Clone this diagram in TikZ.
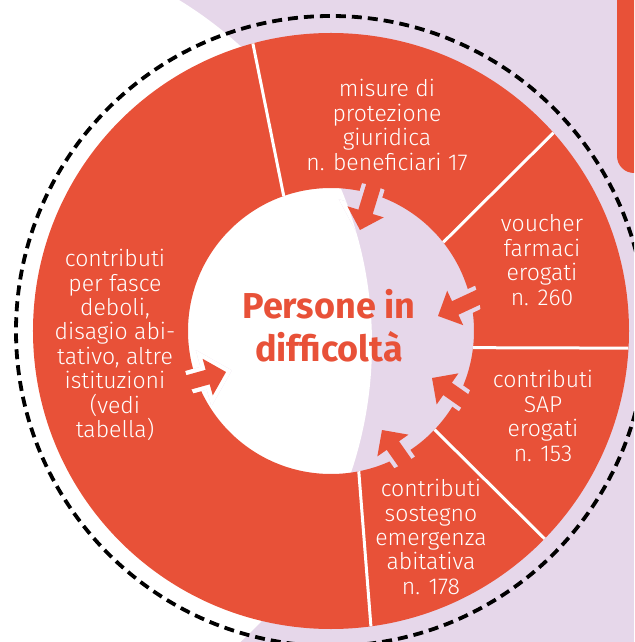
\documentclass[tikz,border=0pt]{standalone}
\usepackage{fontspec}
\setmainfont{Fira Sans Light}[BoldFont={Fira Sans Bold}]
\definecolor{orng}{RGB}{232,81,56}
\definecolor{lav}{RGB}{230,215,234}
\begin{document}
\begin{tikzpicture}[x=1pt,y=1pt,
  lbl/.style={text=white, align=center, inner sep=0pt, font=\fontsize{23}{24.4}\selectfont},
  ttl/.style={text=orng, align=center, inner sep=0pt, font=\bfseries\fontsize{36}{43}\selectfont},
  divider/.style={white, line width=3pt},
  arr/.pic={\path[pic actions] (0,0) -- (-19,19) -- (-19,7.5) -- (-52,7.5) -- (-52,-7.5) -- (-19,-7.5) -- (-19,-19) -- cycle;},
]
\useasboundingbox (-331,-311) rectangle (303,331);
\clip (-331,-311) rectangle (303,331);
% background
\fill[lav] (-331,-311) rectangle (303,331);
\fill[white] (-362,-13) circle (403pt);
\fill[orng, rounded corners=17pt] (286,158) rectangle (360,360);
% dashed circle
\draw[dash pattern=on 10pt off 6pt, line width=3.8pt] (0,0) circle (315pt);
% ring
\fill[orng, even odd rule] (0,0) circle (298pt) (0,0) circle (143pt);
% dividers
\draw[divider] (109.3:143pt) -- (105.2:298pt);
\draw[divider] (38.3:143pt) -- (41.7:298pt);
\draw[divider] (-6.7:143pt) -- (-3.3:298pt);
\draw[divider] (-43.6:143pt) -- (-44.2:298pt);
\draw[divider] (-78.8:143pt) -- (-82.3:298pt);
% arrow outlines (background colour)
\begin{scope}
  \clip (0,0) circle (151pt);
  \pic[fill=lav, draw=lav, line width=8.5pt, rotate=253] at (29,101) {arr};
  \pic[fill=lav, draw=lav, line width=8.5pt, rotate=205] at (107,15) {arr};
  \pic[fill=lav, draw=lav, line width=8.5pt, rotate=145] at (101,-47) {arr};
  \pic[fill=lav, draw=lav, line width=8.5pt, rotate=125] at (51,-99) {arr};
  \pic[fill=lav, draw=lav, line width=8.5pt, rotate=15.5] at (-105,-41) {arr};
\end{scope}
\begin{scope}
  \clip (0,0) circle (151pt);
  \clip (-362,-13) circle (403pt);
  \pic[fill=white, draw=white, line width=8.5pt, rotate=253] at (29,101) {arr};
  \pic[fill=white, draw=white, line width=8.5pt, rotate=205] at (107,15) {arr};
  \pic[fill=white, draw=white, line width=8.5pt, rotate=145] at (101,-47) {arr};
  \pic[fill=white, draw=white, line width=8.5pt, rotate=125] at (51,-99) {arr};
  \pic[fill=white, draw=white, line width=8.5pt, rotate=15.5] at (-105,-41) {arr};
\end{scope}
% arrows
\pic[fill=orng, rotate=253] at (29,101) {arr};
\pic[fill=orng, rotate=205] at (107,15) {arr};
\pic[fill=orng, rotate=145] at (101,-47) {arr};
\pic[fill=orng, rotate=125] at (51,-99) {arr};
\pic[fill=orng, rotate=15.5] at (-105,-41) {arr};
% texts
\node[ttl] (title) at (-2,5) {Persone in\\difficoltà};
\node[lbl] (misure) at (56,206) {misure di\\protezione\\giuridica\\n. beneficiari 17};
\node[lbl] (voucher) at (211,71) {voucher\\farmaci\\erogati\\n. 260};
\node[lbl] (sap) at (212,-85) {contributi\\SAP\\erogati\\n. 153};
\node[lbl] (sostegno) at (100,-206) {contributi\\sostegno\\emergenza\\abitativa\\n. 178};
\node[lbl] (fasce) at (-216,-14) {contributi\\per fasce\\deboli,\\disagio abi-\\tativo, altre\\istituzioni\\(vedi\\tabella)};
\end{tikzpicture}
\end{document}
